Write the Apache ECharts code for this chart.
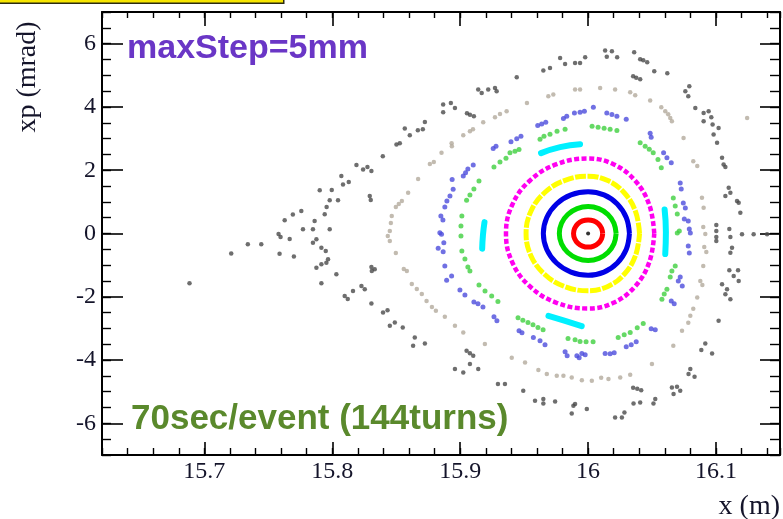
<!DOCTYPE html>
<html>
<head>
<meta charset="utf-8">
<script src="https://cdn.jsdelivr.net/npm/echarts@6/dist/echarts.min.js"></script>
<style>
  html, body { margin: 0; padding: 0; background: #fff; }
  #chart { width: 783px; height: 519px; }
</style>
</head>
<body>
<div id="chart"></div>
<script>
// Horizontal phase space (x, xp) after tracking: closed invariant curves near the
// closed orbit, island chains and scattered outer orbits.

const xRange = [15.62, 16.15];
const xpRange = [-7, 7];

// closed orbit point
const orbitCenter = [[16.0, 0]];

// inner invariant curves [x (m), xp (mrad)]
const ringRed = [
  [16.0114, 0], [16.0105, 0.165], [16.0081, 0.304], [16.0044, 0.397], [16.0, 0.43],
  [15.9956, 0.397], [15.9919, 0.304], [15.9895, 0.165], [15.9886, 0], [15.9895, -0.165],
  [15.9919, -0.304], [15.9956, -0.397], [16.0, -0.43], [16.0044, -0.397], [16.0081, -0.304],
  [16.0105, -0.165]
];
const ringGreen = [
  [16.0219, 0], [16.0202, 0.326], [16.0155, 0.601], [16.0084, 0.785], [16.0, 0.85],
  [15.9914, 0.785], [15.9841, 0.601], [15.9792, 0.326], [15.9775, 0], [15.9792, -0.326],
  [15.9841, -0.601], [15.9914, -0.785], [16.0, -0.85], [16.0084, -0.785], [16.0155, -0.601],
  [16.0202, -0.326]
];
const ringBlue = [
  [16.0323, 0], [16.0298, 0.506], [16.0228, 0.933], [16.0124, 1.22], [16.0, 1.32],
  [15.9866, 1.22], [15.9753, 0.933], [15.9677, 0.506], [15.965, 0], [15.9677, -0.506],
  [15.9753, -0.933], [15.9866, -1.22], [16.0, -1.32], [16.0124, -1.22], [16.0228, -0.933],
  [16.0298, -0.506]
];
const ringYellow = [
  [16.0402, 0], [16.0371, 0.693], [16.0284, 1.28], [16.0154, 1.672], [16.0, 1.81],
  [15.9814, 1.672], [15.9657, 1.28], [15.9552, 0.693], [15.9515, 0], [15.9552, -0.693],
  [15.9657, -1.28], [15.9814, -1.672], [16.0, -1.81], [16.0154, -1.672], [16.0284, -1.28],
  [16.0371, -0.693]
];
const ringMagenta = [
  [16.0517, 0], [16.0478, 0.908], [16.0366, 1.676], [16.0198, 2.19], [16.0, 2.37],
  [15.9754, 2.19], [15.9546, 1.676], [15.9407, 0.908], [15.9358, 0], [15.9407, -0.908],
  [15.9546, -1.676], [15.9754, -2.19], [16.0, -2.37], [16.0198, -2.19], [16.0366, -1.676],
  [16.0478, -0.908]
];

// four-fold island chain (cyan)
const islandsCyan = [
  [[15.9632, 2.54], [15.9781, 2.73], [15.9937, 2.82]],
  [[15.9190, 0.36], [15.9178, -0.05], [15.9172, -0.48]],
  [[16.0598, 0.76], [16.0608, 0.05], [16.0603, -0.65]],
  [[15.9690, -2.60], [15.9820, -2.76], [15.9950, -2.93]]
];

// outer island chain (light green)
const outerGreen = [
  [15.982, 3.297], [15.9757, 3.234], [15.9702, 3.139], [15.9655, 3.076], [15.9624, 2.981],
  [15.946, 2.656], [15.9428, 2.603], [15.9389, 2.549], [15.9358, 2.382], [15.9311, 2.256],
  [15.9264, 2.098], [15.9147, 1.656], [15.9107, 1.404], [15.9076, 1.215], [15.905, 1.047],
  [15.9013, 0.552], [15.9006, 0.237], [15.9006, -0.079], [15.9013, -0.552], [15.9037, -0.805],
  [15.906, -1.057], [15.9076, -1.183], [15.9147, -1.625], [15.9194, -1.814], [15.9246, -1.972],
  [15.9295, -2.152], [15.9452, -2.666], [15.949, -2.745], [15.953, -2.814], [15.9569, -2.887],
  [15.9608, -2.972], [15.9648, -3.045], [15.9843, -3.315], [15.9898, -3.36], [15.9937, -3.414],
  [15.9984, -3.423], [16.0039, -3.423], [16.0235, -3.287], [16.0282, -3.202], [16.0329, -3.13],
  [16.0384, -2.981], [16.0431, -2.846], [16.0577, -2.076], [16.0595, -1.909], [16.0616, -1.761],
  [16.0642, -1.372], [16.0655, -1.183], [16.0681, -1.025], [16.0697, 0.016], [16.0713, 0.079],
  [16.0666, 1.12], [16.0681, 0.868], [16.0697, 0.615], [16.0546, 2.341], [16.0572, 2.076],
  [16.0407, 2.865], [16.0446, 2.761], [16.0478, 2.666], [16.0509, 2.549], [16.0225, 3.256],
  [16.0031, 3.392], [16.0078, 3.36], [16.0125, 3.329], [16.0172, 3.297]
];

// outer chaotic band (blue)
const outerBlue = [
  [15.9606, 3.414], [15.9637, 3.464], [15.9669, 3.518], [15.9807, 3.635], [15.9833, 3.707],
  [15.9893, 3.811], [15.9937, 3.833], [15.9971, 3.865], [16.0041, 3.991], [16.0146, 3.811],
  [16.0186, 3.761], [16.0225, 3.707], [16.0298, 3.612], [16.0485, 3.171], [16.0493, 3.045],
  [15.9397, 2.896], [15.9442, 2.991], [15.9475, 3.076], [15.9258, 2.688], [15.928, 2.761],
  [15.9102, 2.161], [15.9042, 1.918], [15.9024, 1.814], [15.906, 2.035], [15.8937, 1.71],
  [15.8945, 1.395], [15.892, 1.183], [15.8896, 1.025], [15.888, 0.836], [15.8849, 0.552],
  [15.8865, 0.426], [15.8841, 0.025], [15.8854, -0.025], [15.8872, -0.29], [15.8828, -0.467],
  [15.8867, -0.574], [15.888, -1.025], [15.8933, -1.341], [15.8894, -1.477], [15.8998, -1.783],
  [15.9037, -1.94], [15.9107, -2.161], [15.9139, -2.224], [15.9178, -2.319], [15.9264, -2.634],
  [15.9287, -2.761], [15.946, -3.076], [15.9483, -3.139], [15.9572, -3.287], [15.9624, -3.392],
  [15.9663, -3.518], [15.982, -3.739], [15.9836, -3.865], [15.9912, -3.865], [15.9951, -3.792],
  [15.9977, -3.833], [15.993, -3.928], [16.0133, -3.792], [16.0172, -3.802], [16.0204, -3.77],
  [16.0298, -3.581], [16.0337, -3.518], [16.0376, -3.423], [16.0493, -3.013], [16.0525, -3.045],
  [16.065, -2.13], [16.0673, -2.224], [16.0705, -1.499], [16.0736, -1.656], [16.072, -1.372],
  [16.0783, -0.394], [16.0791, -0.615], [16.0799, 0.016], [16.0791, 0.142], [16.0752, 0.457],
  [16.0783, 0.394], [16.072, 1.593], [16.0728, 1.404], [16.0744, 0.962], [16.076, 0.805],
  [16.059, 2.549], [16.0616, 2.391], [16.065, 2.234]
];

// outer orbit (grey-beige)
const outerTan = [
  [15.9689, 4.338], [15.9728, 4.392], [15.9522, 4.127], [15.9272, 3.676], [15.9311, 3.78],
  [15.9363, 3.865], [15.918, 3.518], [15.9076, 3.234], [15.91, 3.297], [15.9024, 3.108],
  [15.8933, 2.855], [15.8935, 2.761], [15.8854, 2.549], [15.8763, 2.193], [15.8794, 2.256],
  [15.8671, 1.719], [15.8593, 1.287], [15.852, 0.931], [15.8544, 1.025], [15.8497, 0.836],
  [15.8465, 0.552], [15.8458, 0.331], [15.845, 0.079], [15.9898, 4.55], [15.9937, 4.55],
  [16.0094, 4.6], [16.0211, 4.55], [16.0329, 4.464], [16.0368, 4.37], [16.0485, 4.202],
  [16.0572, 3.991], [16.0603, 3.865], [16.0626, 3.77], [16.0642, 3.653], [16.0655, 3.549],
  [16.0746, 3.022], [16.0822, 2.287], [16.0853, 2.13], [16.089, 1.129], [16.0903, 0.814],
  [16.09, 0.205], [16.0916, -0.016], [16.0908, -0.426], [16.0924, -0.584], [16.09, -1.025],
  [16.0877, -1.499], [16.0893, -1.625], [16.0853, -2.025], [16.0822, -2.382], [16.0799, -2.603],
  [16.0783, -2.824], [16.0734, -3.076], [16.0666, -3.549], [16.0499, -4.127], [16.0329, -4.464],
  [16.0251, -4.55], [16.0159, -4.6], [16.0102, -4.559], [16.0029, -4.654], [15.9951, -4.638],
  [15.9872, -4.55], [15.9807, -4.496], [15.9755, -4.496], [15.9677, -4.442], [15.9611, -4.316],
  [15.9507, -4.076], [15.9403, -3.928], [15.9193, -3.496], [15.9024, -3.13], [15.8959, -2.918],
  [15.888, -2.634], [15.881, -2.445], [15.8779, -2.319], [15.8737, -2.13], [15.87, -1.909],
  [15.8661, -1.751], [15.8622, -1.593], [15.8583, -1.183], [15.8559, -1.12], [15.8497, -0.615],
  [15.845, -0.237], [15.8434, -0.079], [16.1243, 3.653]
];

// outermost scattered orbits (dark grey)
const outerDark = [
  [15.6884, -1.571], [15.721, -0.631], [15.734, -0.341], [15.7445, -0.341], [15.758, -0.016],
  [15.7596, -0.11], [15.7588, -0.637], [15.7667, -0.174], [15.77, -0.726], [15.7628, 0.416],
  [15.7692, 0.599], [15.7758, 0.71], [15.7771, 0.133], [15.7849, 0.133], [15.7862, 0.394],
  [15.7849, -0.29], [15.7876, -0.183], [15.7915, -0.448], [15.7949, -0.552], [15.798, 0.133],
  [15.7941, 0.606], [15.7956, 0.836], [15.7902, 1.363], [15.7996, 1.372], [15.798, 1.047],
  [15.8045, 1.047], [15.8084, 1.552], [15.8071, 1.814], [15.8129, 1.625], [15.8189, 2.161],
  [15.8241, 2.025], [15.8275, 2.098], [15.8306, 1.972], [15.8293, 1.183], [15.8301, 1.057],
  [15.8395, 2.445], [15.8502, 2.814], [15.8528, 2.855], [15.8567, 3.319], [15.8606, 3.108],
  [15.8669, 3.265], [15.8708, 3.297], [15.8724, 3.527], [15.8867, 4.076], [15.8867, 3.833],
  [15.8927, 4.127], [15.8959, 3.969], [15.9053, 3.802], [15.9076, 3.754], [15.9107, 3.707],
  [15.9141, 4.55], [15.9168, 4.442], [15.9219, 4.55], [15.9272, 4.6], [15.9285, 4.496],
  [15.9442, 4.938], [15.965, 5.149], [15.9702, 5.231], [15.9781, 5.546], [15.982, 5.357],
  [15.9898, 5.389], [15.9937, 5.389], [15.9977, 5.569], [16.0133, 5.78], [16.0186, 5.758],
  [16.0146, 5.584], [16.0227, 5.569], [16.036, 5.726], [16.0407, 5.505], [16.0431, 5.474],
  [16.0462, 5.411], [16.0517, 5.127], [16.0619, 5.064], [16.0352, 4.969], [16.0376, 4.922],
  [16.0407, 4.874], [16.076, 4.496], [16.0791, 4.654], [16.0783, 4.338], [16.0838, 3.969],
  [16.0903, 3.811], [16.0942, 3.865], [16.0903, 3.549], [16.0963, 3.676], [16.0973, 3.445],
  [16.102, 3.338], [16.0981, 3.13], [16.1008, 2.865], [16.1047, 2.391], [16.1059, 2.183],
  [16.1073, 2.098], [16.1099, 1.445], [16.1073, 1.183], [16.1112, 1.287], [16.1177, 0.972],
  [16.119, 0.656], [16.1164, 1.025], [16.1002, 0.268], [16.1002, 0.079], [16.1002, -0.11],
  [16.1002, -0.237], [16.1104, 0.142], [16.1112, -0.11], [16.1203, -0.025], [16.1294, -0.025],
  [16.1399, -0.025], [16.1125, -0.448], [16.1112, -0.606], [16.1104, -1.161], [16.1172, -1.161],
  [16.1138, -1.341], [16.1177, -1.499], [16.1047, -1.603], [16.1086, -1.76], [16.1073, -1.918],
  [16.1112, -2.076], [16.102, -2.761], [16.0916, -3.477], [16.0885, -3.685], [16.0969, -3.792],
  [16.0799, -4.284], [16.0785, -4.442], [16.0832, -4.527], [16.0655, -4.865], [16.0695, -4.843],
  [16.0668, -5.073], [16.072, -4.969], [16.0352, -4.874], [16.0384, -4.906], [16.0415, -4.953],
  [16.0355, -5.37], [16.0407, -5.338], [16.0511, -5.37], [16.0525, -5.231], [16.0211, -5.811],
  [16.0284, -5.654], [16.0264, -5.811], [15.999, -5.546], [15.9898, -5.389], [15.9885, -5.442],
  [15.9872, -5.685], [15.9742, -5.307], [15.9585, -5.285], [15.965, -5.231], [15.965, -5.37],
  [15.9493, -4.969], [15.9295, -4.758], [15.935, -4.758], [15.905, -3.707], [15.9076, -3.786],
  [15.9102, -3.865], [15.8959, -4.284], [15.9024, -4.392], [15.9076, -4.127], [15.9141, -4.284],
  [15.8632, -3.549], [15.8645, -3.287], [15.8724, -3.477], [15.8551, -2.972], [15.845, -2.918],
  [15.8489, -2.814], [15.8397, -2.499], [15.8432, -2.423], [15.8332, -1.129], [15.8306, -1.057],
  [15.8309, -1.183], [15.7876, -1.079], [15.7915, -0.972], [15.7954, -0.921], [15.7967, -0.814],
  [15.8032, -1.287], [15.7915, -1.571], [15.8097, -1.972], [15.8121, -2.067], [15.8162, -1.814],
  [15.8228, -1.656], [15.8254, -1.76], [15.8306, -2.215]
];

const serifFont = 'Liberation Serif, Times New Roman, serif';

function closedRing(points, color, width, dash) {
  return {
    type: 'line',
    data: points.concat([points[0]]),
    smooth: 0.4,
    showSymbol: false,
    silent: true,
    z: 5,
    lineStyle: { color: color, width: width, type: dash || 'solid', cap: 'butt' }
  };
}

function scatterSet(points, color, size) {
  return {
    type: 'scatter',
    data: points,
    symbol: 'circle',
    symbolSize: size,
    silent: true,
    z: 3,
    itemStyle: { color: color }
  };
}

function majorX(position, tickLen, showLabels) {
  return {
    type: 'value', position: position, min: xRange[0], max: xRange[1],
    minInterval: 0.1, maxInterval: 0.1,
    axisLine: { show: true, onZero: false, lineStyle: { color: '#000', width: 2 } },
    axisTick: { show: true, inside: true, length: tickLen, lineStyle: { color: '#000', width: 1.6 } },
    axisLabel: {
      show: showLabels, showMinLabel: false, showMaxLabel: false, margin: 5,
      fontFamily: serifFont, fontSize: 24, color: '#14142a'
    },
    splitLine: { show: false }
  };
}
function minorX(position, tickLen) {
  return {
    type: 'value', position: position, min: xRange[0], max: xRange[1], interval: 0.02,
    axisLine: { show: false, onZero: false },
    axisTick: { show: true, inside: true, length: tickLen, lineStyle: { color: '#000', width: 1.4 } },
    axisLabel: { show: false },
    splitLine: { show: false }
  };
}
function majorY(position, tickLen, showLabels) {
  return {
    type: 'value', position: position, min: xpRange[0], max: xpRange[1],
    minInterval: 2, maxInterval: 2,
    axisLine: { show: true, onZero: false, lineStyle: { color: '#000', width: 2 } },
    axisTick: { show: true, inside: true, length: tickLen, lineStyle: { color: '#000', width: 1.6 } },
    axisLabel: {
      show: showLabels, showMinLabel: false, showMaxLabel: false, margin: 6,
      fontFamily: serifFont, fontSize: 24, color: '#14142a'
    },
    splitLine: { show: false }
  };
}
function minorY(position, tickLen) {
  return {
    type: 'value', position: position, min: xpRange[0], max: xpRange[1], interval: 0.5,
    axisLine: { show: false, onZero: false },
    axisTick: { show: true, inside: true, length: tickLen, lineStyle: { color: '#000', width: 1.4 } },
    axisLabel: { show: false },
    splitLine: { show: false }
  };
}

const series = [
  scatterSet(outerDark, '#4a4a4a', 4.5),
  scatterSet(outerTan, '#b3aa9c', 4.5),
  scatterSet(outerBlue, '#4c4cdc', 5),
  scatterSet(outerGreen, '#3fcf3f', 5)
];
islandsCyan.forEach(function (arc) {
  series.push({
    type: 'line', data: arc, smooth: true, showSymbol: false, silent: true, z: 4,
    lineStyle: { color: '#00f0ff', width: 6, cap: 'round' }
  });
});
series.push(closedRing(ringMagenta, '#ff00f0', 4.5, [5, 2.5]));
series.push(closedRing(ringYellow, '#ffff00', 5, [11, 1.5]));
series.push(closedRing(ringBlue, '#0000e6', 5));
series.push(closedRing(ringGreen, '#00dd00', 5));
series.push(closedRing(ringRed, '#ff0000', 5));
series.push(Object.assign(scatterSet(orbitCenter, '#000', 4), { z: 6 }));

const chart = echarts.init(document.getElementById('chart'), null, { renderer: 'canvas' });
chart.setOption({
  animation: false,
  backgroundColor: '#ffffff',
  grid: { left: 102, right: 3, top: 12, bottom: 64, containLabel: false },
  xAxis: [majorX('bottom', 13, true), minorX('bottom', 7), majorX('top', 14, false), minorX('top', 6)],
  yAxis: [majorY('left', 21, true), minorY('left', 9), majorY('right', 20, false), minorY('right', 10)],
  series: series,
  graphic: [
    {
      type: 'rect', left: -2, top: -10, silent: true,
      shape: { width: 285, height: 12.5 },
      style: { fill: '#f7e600', stroke: '#2b2b10', lineWidth: 1.5 }
    },
    {
      type: 'text', x: 127, y: 49, silent: true,
      style: { text: 'maxStep=5mm', font: 'bold 34px "Liberation Sans", Arial, sans-serif',
               fill: '#6a36c6', align: 'left', verticalAlign: 'middle' }
    },
    {
      type: 'text', x: 131, y: 419, silent: true,
      style: { text: '70sec/event (144turns)', font: 'bold 35px "Liberation Sans", Arial, sans-serif',
               fill: '#5a892c', align: 'left', verticalAlign: 'middle' }
    },
    {
      type: 'text', x: 28, y: 77, rotation: Math.PI / 2, silent: true,
      style: { text: 'xp (mrad)', font: '28px "Liberation Serif", "Times New Roman", serif',
               fill: '#14142a', align: 'center', verticalAlign: 'middle' }
    },
    {
      type: 'text', x: 780, y: 507, silent: true,
      style: { text: 'x (m)', font: '28px "Liberation Serif", "Times New Roman", serif',
               fill: '#14142a', align: 'right', verticalAlign: 'middle' }
    }
  ]
});
</script>
</body>
</html>
